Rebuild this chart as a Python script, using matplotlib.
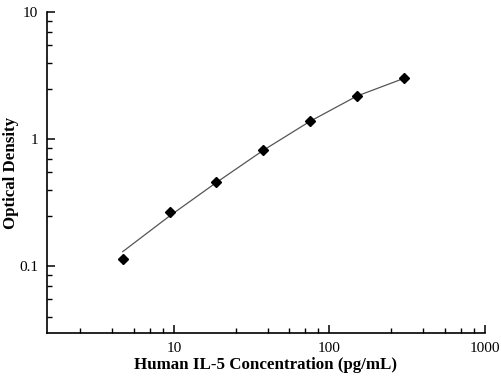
import numpy as np
import matplotlib
matplotlib.use("Agg")
from matplotlib import pyplot as plt
from matplotlib.ticker import FixedLocator, NullFormatter

# standard concentrations (pg/mL) and measured OD
conc = [4.69, 9.38, 18.75, 37.5, 75, 150, 300]
od = [0.113, 0.268, 0.457, 0.82, 1.39, 2.2, 3.05]
# fitted curve at the same concentrations
fit_od = [0.130, 0.248, 0.455, 0.815, 1.38, 2.18, 3.0]

x_major = [10, 100, 1000]
x_minor = [2.5, 4, 5.5, 7, 8.5, 25, 40, 55, 70, 85, 250, 400, 550, 700, 850]
y_major = [0.1, 1, 10]
y_minor = [0.04, 0.055, 0.07, 0.085, 0.25, 0.4, 0.55, 0.7, 0.85,
           2.5, 4, 5.5, 7, 8.5]

plt.rcParams['font.family'] = ['Liberation Serif', 'DejaVu Serif']

fig = plt.figure(figsize=(5.02, 3.78), dpi=100)
ax = fig.add_axes([0.093, 0.118, 0.873, 0.85])

ax.plot(conc, fit_od, color='#555555', lw=0.9)
ax.plot(conc, od, linestyle='none', marker='D', color='black', markersize=5.3)

ax.set_xscale('log')
ax.set_yscale('log')
ax.set_xlim(1.52, 1000)
ax.set_ylim(0.0295, 10)

ax.xaxis.set_major_locator(FixedLocator(x_major))
ax.xaxis.set_minor_locator(FixedLocator(x_minor))
ax.yaxis.set_major_locator(FixedLocator(y_major))
ax.yaxis.set_minor_locator(FixedLocator(y_minor))
ax.set_xticklabels(['10', '100', '1000'])
ax.set_yticklabels(['0.1', '1', '10'])
ax.xaxis.set_minor_formatter(NullFormatter())
ax.yaxis.set_minor_formatter(NullFormatter())

ax.spines['top'].set_visible(False)
ax.spines['right'].set_visible(False)
for s in ['left', 'bottom']:
    ax.spines[s].set_linewidth(1.2)
ax.tick_params(which='major', direction='in', length=6, width=1.1, labelsize=11, pad=6)
ax.tick_params(which='minor', direction='in', length=3.5, width=1.0)

ax.set_xlabel('Human IL-5 Concentration (pg/mL)', fontsize=12.2, fontweight='bold')
ax.set_ylabel('Optical Density', fontsize=12.2, fontweight='bold')
ax.xaxis.set_label_coords(0.5, -0.075)
ax.yaxis.set_label_coords(-0.063, 0.5)

fig.savefig('out.png', dpi=100)
